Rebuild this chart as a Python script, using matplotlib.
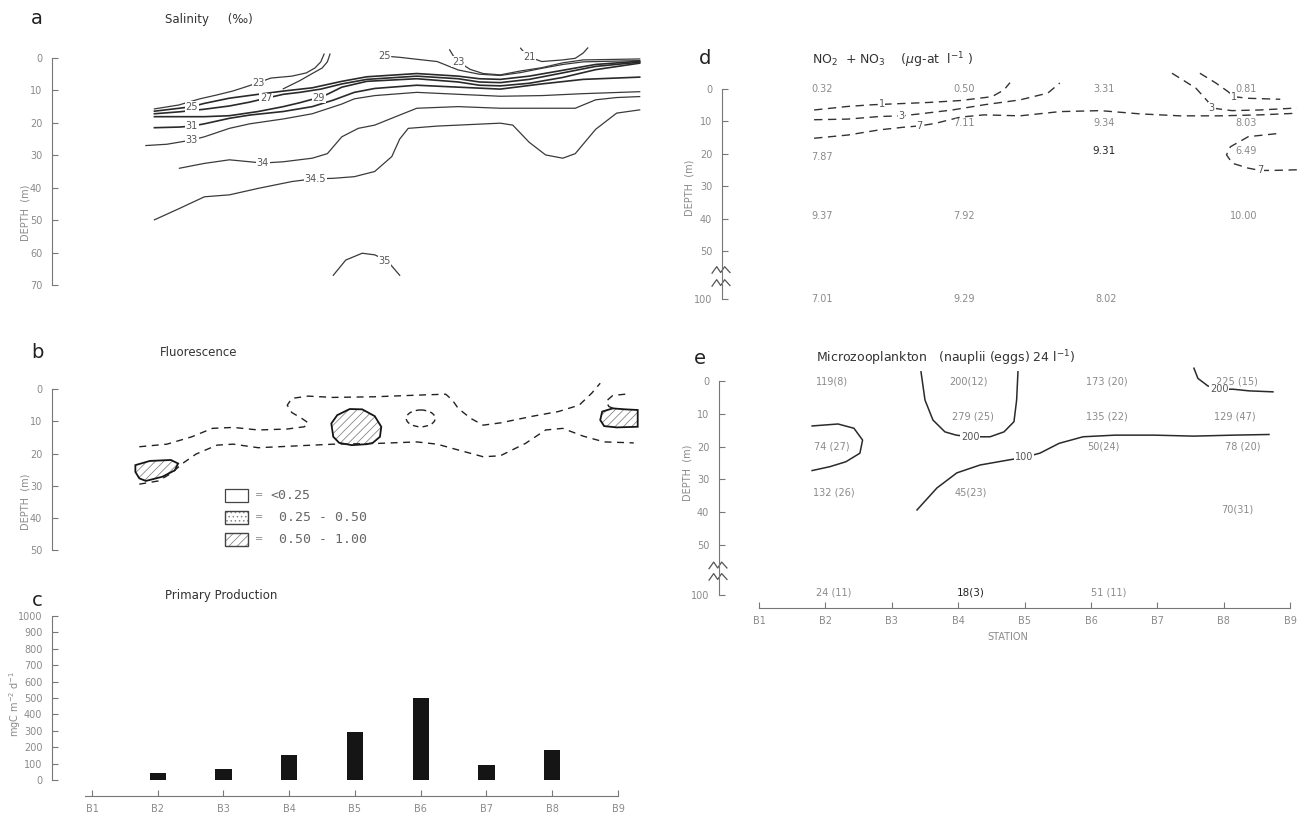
import numpy as np
import matplotlib
matplotlib.use("Agg")
import matplotlib.pyplot as plt
from matplotlib.patches import Polygon, Ellipse, Rectangle

# ===== values (x = station number, y = depth m) =====
STATIONS = ["B1", "B2", "B3", "B4", "B5", "B6", "B7", "B8", "B9"]

# c) primary production, mgC m-2 d-1
PP_STATION = [2, 3, 4, 5, 6, 7, 8]
PP_VALUE = [40, 70, 150, 290, 500, 90, 180]

# a) salinity isolines
SAL_21 = ([7.52, 7.58, 7.65, 7.84, 8.16, 8.35, 8.47, 8.54],
          [-3.0, -1.5, -0.3, 1.1, 0.6, 0.1, -1.5, -3.1])
SAL_23_LEFT = ([1.95, 2.32, 2.64, 2.90, 3.14, 3.34, 3.53, 3.72, 4.04, 4.26, 4.39, 4.48, 4.53],
               [15.7, 14.5, 12.6, 11.4, 10.2, 8.9, 7.6, 6.2, 5.6, 4.6, 3.1, 1.2, -1.2])
SAL_23_HOOK = ([3.91, 4.16, 4.35, 4.50, 4.58, 4.62],
               [9.5, 7.0, 4.8, 3.1, 1.2, -1.2])
SAL_23_RIGHT = ([6.44, 6.50, 6.57, 6.75, 6.95, 7.21, 7.52, 7.84, 8.16, 8.47, 9.33],
                [-2.5, -0.5, 1.1, 3.5, 4.8, 5.2, 4.0, 3.0, 1.5, 0.6, 0.3])
SAL_25_RIGHT = ([5.56, 5.68, 5.94, 6.25, 6.57, 6.89, 7.21, 7.52, 7.84, 8.16, 8.47, 9.33],
                [-0.4, -0.2, 0.4, 1.1, 3.7, 5.0, 5.4, 4.5, 3.2, 2.0, 1.2, 0.8])
SAL_25 = ([1.95, 2.33, 2.52, 2.71, 3.09, 3.53, 3.91, 4.35, 4.80, 5.18, 5.94, 6.57, 6.89, 7.21, 7.65, 8.16, 8.66, 9.33],
          [16.4, 15.5, 15.0, 14.0, 12.4, 11.2, 10.2, 9.2, 7.2, 5.8, 4.8, 5.6, 6.4, 6.6, 5.6, 3.8, 2.0, 1.0])
SAL_27 = ([1.95, 2.33, 2.71, 3.09, 3.40, 3.65, 3.91, 4.16, 4.48, 4.80, 5.18, 5.94, 6.57, 6.89, 7.21, 7.65, 8.16, 8.66, 9.33],
          [17.2, 16.6, 15.8, 14.8, 13.6, 12.4, 11.2, 10.6, 9.6, 8.0, 6.6, 5.6, 6.4, 7.4, 7.6, 6.6, 4.6, 2.6, 1.3])
SAL_29 = ([1.95, 2.71, 3.09, 3.53, 3.91, 4.16, 4.45, 4.58, 4.80, 5.18, 5.94, 6.57, 6.89, 7.21, 7.65, 8.16, 8.66, 9.33],
          [18.1, 18.1, 17.8, 16.5, 15.0, 13.8, 12.2, 11.2, 9.0, 7.2, 6.4, 7.4, 8.4, 8.6, 7.8, 6.0, 3.6, 1.6])
SAL_31 = ([1.95, 2.33, 2.52, 2.71, 3.09, 3.40, 3.91, 4.35, 4.67, 4.99, 5.30, 5.94, 6.57, 7.21, 7.84, 8.47, 9.33],
          [21.5, 21.3, 21.0, 20.3, 18.6, 17.6, 16.5, 15.0, 13.0, 10.6, 9.4, 8.4, 9.0, 9.6, 8.0, 6.6, 5.9])
SAL_33 = ([1.82, 2.14, 2.52, 2.71, 3.09, 3.40, 3.91, 4.35, 4.80, 4.99, 5.30, 5.94, 6.57, 7.21, 7.84, 8.47, 9.33],
          [27.0, 26.6, 25.3, 24.3, 21.7, 20.3, 18.8, 17.2, 14.2, 12.6, 11.6, 10.6, 11.2, 11.8, 11.6, 11.0, 10.4])
SAL_34 = ([2.33, 2.71, 3.09, 3.40, 3.60, 3.91, 4.35, 4.58, 4.80, 5.05, 5.30, 5.68, 5.94, 6.57, 7.21, 7.84, 8.35, 8.66, 8.98, 9.33],
          [34.0, 32.5, 31.4, 32.0, 32.4, 32.0, 30.9, 29.5, 24.3, 21.7, 20.7, 17.6, 15.5, 15.0, 15.5, 15.5, 15.5, 12.9, 12.2, 11.9])
SAL_345 = ([1.95, 2.33, 2.71, 3.09, 3.53, 4.04, 4.35, 4.67, 4.99, 5.30, 5.56, 5.68, 5.81, 6.25, 7.21, 7.40, 7.65, 7.90, 8.16, 8.35, 8.66, 8.98, 9.33],
           [49.9, 46.4, 42.8, 42.2, 40.2, 38.1, 37.3, 37.1, 36.6, 35.0, 30.4, 25.0, 21.7, 21.0, 20.1, 20.7, 26.0, 29.9, 30.9, 29.5, 22.0, 17.0, 16.0])
SAL_35 = ([4.67, 4.86, 5.11, 5.30, 5.49, 5.68],
          [67.0, 62.3, 60.2, 60.7, 62.5, 67.0])
SAL_LABEL_TXT = ["21", "23", "23", "25", "25", "27", "29", "31", "33", "34", "34.5", "35"]
SAL_LABEL_X = [7.65, 3.53, 6.57, 5.45, 2.52, 3.65, 4.45, 2.52, 2.52, 3.60, 4.40, 5.45]
SAL_LABEL_Z = [-0.3, 7.6, 1.1, -0.5, 15.0, 12.4, 12.2, 21.0, 25.3, 32.4, 37.2, 62.5]

# b) fluorescence
FLU_UPPER = ([1.72, 2.14, 2.52, 2.83, 3.15, 3.53, 3.97, 4.23, 4.29, 4.19, 4.04, 3.97, 4.04, 4.29, 4.67, 5.30, 5.94,
              6.38, 6.48, 6.57, 6.76, 6.95, 7.21, 7.71, 8.09, 8.41, 8.60, 8.73],
             [17.9, 17.1, 14.8, 12.2, 11.9, 12.7, 12.4, 11.7, 10.5, 9.1, 7.3, 5.0, 2.9, 2.2, 2.6, 2.4, 1.9,
              1.6, 3.4, 6.0, 9.1, 11.2, 10.5, 8.4, 7.0, 5.0, 1.3, -1.8])
FLU_LOWER = ([1.72, 2.01, 2.20, 2.39, 2.58, 2.90, 3.15, 3.53, 4.04, 4.67, 5.30, 5.94, 6.25, 6.57, 6.95, 7.21,
              7.59, 7.90, 8.16, 8.47, 8.79, 9.24],
             [29.5, 28.5, 26.2, 22.9, 20.2, 17.4, 17.1, 18.2, 17.7, 17.1, 16.9, 16.4, 17.1, 18.9, 21.0, 20.7,
              16.9, 12.7, 12.2, 14.6, 16.4, 16.7])
FLU_CURL = ([9.11, 8.92, 8.82, 8.86, 8.95], [1.6, 2.0, 3.8, 5.4, 6.2])
FLU_PATCH_MID = ([4.67, 4.64, 4.73, 4.92, 5.11, 5.30, 5.40, 5.38, 5.27, 5.18, 4.95, 4.76],
                 [14.8, 10.7, 8.1, 6.2, 6.3, 8.4, 11.7, 14.8, 16.7, 17.1, 17.4, 16.7])
FLU_PATCH_LEFT = ([1.66, 1.88, 2.20, 2.31, 2.26, 2.07, 1.82, 1.72, 1.66],
                  [23.6, 22.3, 22.0, 23.1, 25.2, 27.2, 28.5, 27.7, 25.7])
FLU_PATCH_RIGHT = ([8.73, 8.76, 8.92, 9.11, 9.30, 9.30, 8.98, 8.79],
                   [9.6, 7.0, 6.0, 6.3, 6.5, 11.7, 11.9, 11.5])
FLU_SMALL = (6.0, 9.1)
FLU_CLASSES = ["<0.25", " 0.25 - 0.50", " 0.50 - 1.00"]

# d) NO2 + NO3 (ug-at l-1)
NO3_X = [1.95, 4.09, 6.20, 8.33, 4.09, 6.20, 8.33, 1.95, 6.20, 8.33, 1.95, 4.09, 8.30, 1.95, 4.09, 6.23]
NO3_Z = [0, 0, 0, 0, 10.5, 10.5, 10.5, 21, 19, 19, 39, 39, 39, 100, 100, 100]
NO3_TXT = ["0.32", "0.50", "3.31", "0.81", "7.11", "9.34", "8.03", "7.87", "9.31", "6.49",
           "9.37", "7.92", "10.00", "7.01", "9.29", "8.02"]
NO3_1 = ([1.83, 2.34, 2.70, 3.06, 3.54, 4.03, 4.51, 4.69, 4.78], [6.5, 5.4, 4.9, 4.6, 4.2, 3.6, 2.4, 0.3, -1.9])
NO3_3 = ([1.83, 2.34, 2.82, 3.15, 3.42, 3.91, 4.39, 4.93, 5.35, 5.53], [9.5, 9.3, 8.5, 8.3, 7.7, 6.5, 4.9, 3.4, 1.3, -1.8])
NO3_7 = ([1.83, 2.34, 2.82, 3.18, 3.42, 3.66, 4.03, 4.39, 4.93, 5.53, 6.14, 6.74, 7.34, 7.94, 8.55, 9.10],
         [15.2, 14.2, 12.6, 11.8, 11.4, 10.6, 8.7, 8.0, 8.3, 7.0, 6.7, 7.7, 8.3, 8.3, 8.0, 7.5])
NO3_3_RIGHT = ([7.22, 7.58, 7.76, 7.82, 8.12, 8.54, 9.10], [-4.8, -0.2, 3.9, 5.9, 6.7, 6.5, 5.9])
NO3_1_RIGHT = ([7.64, 7.88, 8.06, 8.15, 8.36, 8.85], [-4.8, -1.8, 0.8, 2.4, 2.9, 3.2])
NO3_7_RIGHT = ([8.79, 8.37, 8.10, 8.04, 8.13, 8.37, 8.55, 8.73, 9.10], [13.8, 14.7, 17.8, 20.3, 22.9, 24.4, 25.1, 25.1, 24.9])
NO3_LABEL_TXT = ["1", "3", "7", "3", "1", "7"]
NO3_LABEL_X = [2.85, 3.15, 3.42, 7.82, 8.15, 8.55]
NO3_LABEL_Z = [4.7, 8.3, 11.4, 5.9, 2.4, 25.1]

# e) microzooplankton, nauplii (eggs) per 24 l
MZ_X = [2.10, 4.16, 6.24, 8.20, 4.22, 6.24, 8.17, 2.10, 6.18, 8.29, 2.12, 4.19, 8.20, 2.12, 4.19, 6.26]
MZ_Z = [0, 0, 0, 0, 10.9, 10.9, 10.9, 20, 20, 20, 34, 34, 39.3, 100, 100, 100]
MZ_TXT = ["119(8)", "200(12)", "173 (20)", "225 (15)", "279 (25)", "135 (22)", "129 (47)",
          "74 (27)", "50(24)", "78 (20)", "132 (26)", "45(23)", "70(31)", "24 (11)", "18(3)", "51 (11)"]
MZ_LOOP = ([1.80, 2.19, 2.43, 2.56, 2.52, 2.31, 2.07, 1.80], [13.7, 13.1, 14.4, 18.0, 22.0, 24.6, 26.1, 27.3])
MZ_200_U = ([3.44, 3.50, 3.62, 3.80, 3.97, 4.18, 4.48, 4.69, 4.84, 4.88, 4.90],
            [-2.8, 5.8, 11.9, 15.5, 16.5, 17.0, 17.0, 15.5, 12.4, 5.8, -2.8])
MZ_100 = ([3.38, 3.68, 3.98, 4.33, 4.75, 4.99, 5.23, 5.52, 5.88, 6.36, 6.95, 7.55, 8.14, 8.68],
          [39.3, 32.6, 28.0, 25.6, 24.1, 23.3, 22.0, 19.0, 17.0, 16.5, 16.5, 16.8, 16.5, 16.3])
MZ_200_R = ([7.55, 7.61, 7.76, 7.93, 8.14, 8.38, 8.74], [-3.9, -0.8, 1.5, 2.5, 2.5, 3.0, 3.3])
MZ_LABEL_TXT = ["200", "100", "200"]
MZ_LABEL_X = [4.18, 4.99, 7.93]
MZ_LABEL_Z = [17.0, 23.3, 2.5]

# ===== style =====
LINE = "#3a3a3a"
GREY = "#8a8a8a"
TITLE = "#333333"
W, H = 1297, 816

fig = plt.figure(figsize=(W / 100, H / 100), dpi=100)
fig.patch.set_facecolor("white")


def add_ax(left, top, right, bottom):
    return fig.add_axes([left / W, 1 - bottom / H, (right - left) / W, (bottom - top) / H])


def ftext(x, y, s, **kw):
    fig.text(x / W, 1 - y / H, s, **kw)


def depth_axis(ax, ticks, labels, bounds):
    for s in ["top", "right", "bottom"]:
        ax.spines[s].set_visible(False)
    ax.spines["left"].set_bounds(*bounds)
    ax.spines["left"].set_color("#777777")
    ax.spines["left"].set_linewidth(0.8)
    ax.set_yticks(ticks)
    ax.set_yticklabels(labels)
    ax.tick_params(axis="y", direction="in", length=4, width=0.8, color="#777777",
                   labelcolor=GREY, labelsize=7, pad=7)
    ax.set_xticks([])
    ax.patch.set_alpha(0)


def station_axis(ax, lo):
    ax.spines["bottom"].set_visible(True)
    ax.spines["bottom"].set_bounds(lo, 9)
    ax.spines["bottom"].set_color("#777777")
    ax.spines["bottom"].set_linewidth(0.8)
    ax.set_xticks(range(1, 10))
    ax.set_xticklabels(STATIONS)
    ax.tick_params(axis="x", direction="in", length=4, width=0.8, color="#777777",
                   labelcolor=GREY, labelsize=7, pad=6)


def iso(ax, line, **kw):
    st = dict(color=LINE, lw=0.9)
    st.update(kw)
    ax.plot(line[0], line[1], **st)


def iso_labels(ax, xs, zs, txts, size=7):
    for x, z, t in zip(xs, zs, txts):
        ax.text(x, z, t, ha="center", va="center", fontsize=size, color="#555555",
                bbox=dict(fc="white", ec="none", pad=0.4))


def brk_marks(ax, z_list):
    x0 = ax.get_xlim()[0]
    for z in z_list:
        ax.plot([x0 - 0.15, x0 - 0.08, x0 - 0.02, x0 + 0.04, x0 + 0.12],
                [z + 1.2, z - 0.8, z + 1.0, z - 0.8, z + 1.0],
                color="#555555", lw=0.9, clip_on=False)


# ---------- a) salinity ----------
ax_a = add_ax(52, 45, 650, 291.5)
ax_a.set_xlim(0.392, 9.487)
ax_a.set_ylim(72, -4)
depth_axis(ax_a, range(0, 71, 10), [str(v) for v in range(0, 71, 10)], (0, 70))
for line in [SAL_21, SAL_23_LEFT, SAL_23_HOOK, SAL_23_RIGHT, SAL_25_RIGHT,
             SAL_33, SAL_34, SAL_345, SAL_35]:
    iso(ax_a, line)
for line in [SAL_25, SAL_27, SAL_29, SAL_31]:
    iso(ax_a, line, lw=1.2, color="#2a2a2a")
iso_labels(ax_a, SAL_LABEL_X, SAL_LABEL_Z, SAL_LABEL_TXT)

# ---------- b) fluorescence ----------
ax_b = add_ax(52, 376, 650, 556.4)
ax_b.set_xlim(0.392, 9.487)
ax_b.set_ylim(51.9, -4.04)
depth_axis(ax_b, range(0, 51, 10), [str(v) for v in range(0, 51, 10)], (0, 50))
for line in [FLU_UPPER, FLU_LOWER, FLU_CURL]:
    iso(ax_b, line, ls=(0, (5, 4)), lw=1.0, color="#222222")
plt.rcParams["hatch.linewidth"] = 0.6
for patch in [FLU_PATCH_MID, FLU_PATCH_LEFT, FLU_PATCH_RIGHT]:
    xy = np.column_stack(patch)
    ax_b.add_patch(Polygon(xy, closed=True, fill=False, hatch="////", ec="#888888", lw=0))
    ax_b.add_patch(Polygon(xy, closed=True, fill=False, ec="#151515", lw=1.3))
ax_b.add_patch(Ellipse(FLU_SMALL, 0.44, 5.2, fill=False, ec="#222222", lw=1.0, ls=(0, (4, 3))))
# legend boxes
for i, (lbl, hatch) in enumerate(zip(FLU_CLASSES, [None, "....", "////"])):
    z = 31 + i * 6.8
    ax_b.add_patch(Rectangle((3.02, z), 0.35, 4.0, fill=False, ec="#888888" if hatch else "#444444",
                             hatch=hatch, lw=0.9))
    if hatch:
        ax_b.add_patch(Rectangle((3.02, z), 0.35, 4.0, fill=False, ec="#444444", lw=0.9))
    ax_b.text(3.48, z + 2.0, "=", ha="left", va="center", fontsize=7, color=GREY)
    ax_b.text(3.72, z + 2.0, lbl, ha="left", va="center", fontsize=9.5, color="#666666",
              family="DejaVu Sans Mono")

# ---------- c) primary production ----------
ax_c = add_ax(52, 606, 650, 796)
ax_c.set_xlim(0.392, 9.487)
ax_c.set_ylim(-97.6, 1061)
depth_axis(ax_c, range(0, 1001, 100), [str(v) for v in range(0, 1001, 100)], (0, 1000))
station_axis(ax_c, 0.9)
ax_c.bar(PP_STATION, PP_VALUE, width=0.25, color="#151515")

# ---------- d) nitrate + nitrite ----------
D_100 = 64.6
ax_d = add_ax(722, 70, 1297, 306)
ax_d.set_xlim(0.443, 9.102)
ax_d.set_ylim(66.8, -5.8)
depth_axis(ax_d, [0, 10, 20, 30, 40, 50, D_100], ["0", "10", "20", "30", "40", "50", "100"], (0, D_100))
brk_marks(ax_d, [55.5, 59.5])
for x, z, t in zip(NO3_X, NO3_Z, NO3_TXT):
    zz = D_100 if z >= 100 else z
    dark = t == "9.31"
    ax_d.text(x, zz, t, ha="center", va="center", fontsize=7.5 if dark else 7,
              color="#222222" if dark else GREY)
for line in [NO3_1, NO3_3, NO3_7, NO3_3_RIGHT, NO3_1_RIGHT, NO3_7_RIGHT]:
    iso(ax_d, line, ls=(0, (6, 4)), lw=1.0, color="#333333")
iso_labels(ax_d, NO3_LABEL_X, NO3_LABEL_Z, NO3_LABEL_TXT)

# ---------- e) microzooplankton ----------
E_100 = 65.2
ax_e = add_ax(719, 362, 1297, 608)
ax_e.set_xlim(0.398, 9.102)
ax_e.set_ylim(69.2, -5.8)
depth_axis(ax_e, [0, 10, 20, 30, 40, 50, E_100], ["0", "10", "20", "30", "40", "50", "100"], (0, E_100))
station_axis(ax_e, 1)
ax_e.set_xlabel("STATION", fontsize=7, color=GREY, labelpad=4)
brk_marks(ax_e, [56.0, 59.5])
for x, z, t in zip(MZ_X, MZ_Z, MZ_TXT):
    zz = E_100 - 0.8 if z >= 100 else z
    dark = t == "18(3)"
    ax_e.text(x, zz, t, ha="center", va="center", fontsize=7.5 if dark else 7,
              color="#222222" if dark else GREY)
for line in [MZ_LOOP, MZ_200_U, MZ_100, MZ_200_R]:
    iso(ax_e, line, lw=1.1, color="#2a2a2a")
iso_labels(ax_e, MZ_LABEL_X, MZ_LABEL_Z, MZ_LABEL_TXT)

# ---------- panel letters, titles, axis labels ----------
for x, y, s in [(37, 18, "a"), (37, 353, "b"), (37, 600, "c"), (705, 58, "d"), (700, 358, "e")]:
    ftext(x, y, s, fontsize=14, color="#222222", ha="center", va="center")
ftext(165, 20, "Salinity     (\u2030)", fontsize=8.5, color=TITLE, va="center")
ftext(160, 353, "Fluorescence", fontsize=8.5, color=TITLE, va="center")
ftext(165, 595, "Primary Production", fontsize=8.5, color=TITLE, va="center")
ftext(812, 60, "NO$_2$  + NO$_3$    ($\\mu$g-at  l$^{-1}$ )", fontsize=9, color=TITLE, va="center")
ftext(816, 358, "Microzooplankton   (nauplii (eggs) 24 l$^{-1}$)", fontsize=9, color=TITLE, va="center")
for x, y in [(25, 213), (25, 502), (690, 188), (688, 473)]:
    ftext(x, y, "DEPTH  (m)", fontsize=7, color=GREY, rotation=90, ha="center", va="center")
ftext(15, 704, "mgC m$^{-2}$ d$^{-1}$", fontsize=7, color=GREY, rotation=90, ha="center", va="center")

fig.savefig("out.png", dpi=100)
